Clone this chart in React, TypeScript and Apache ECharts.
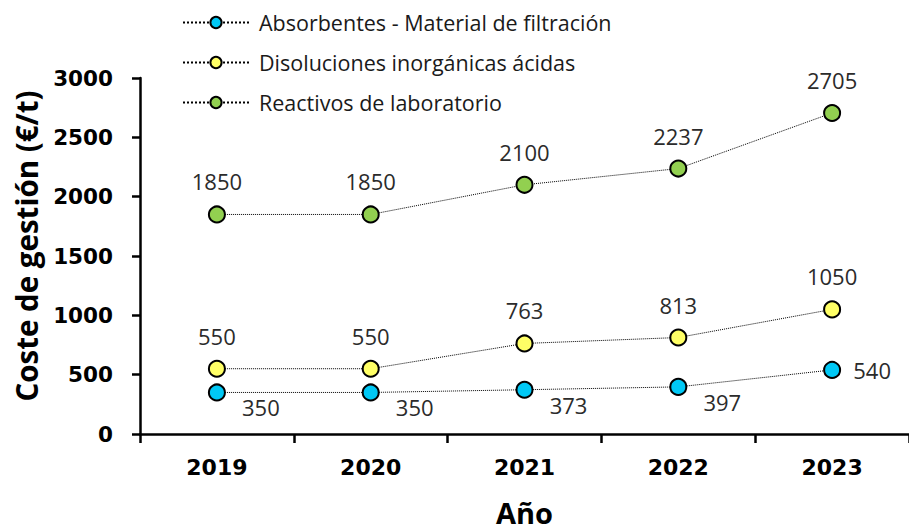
import React, { useEffect, useRef } from "react";
import * as echarts from "echarts";

const years = ["2019", "2020", "2021", "2022", "2023"];
const absorbentes = [350, 350, 373, 397, 540];
const disoluciones = [550, 550, 763, 813, 1050];
const reactivos = [1850, 1850, 2100, 2237, 2705];
const seriesNames = [
  "Absorbentes - Material de filtración",
  "Disoluciones inorgánicas ácidas",
  "Reactivos de laboratorio",
];
const colors = ["#00C8F5", "#FFFF66", "#92D050"];

const FONT = "'Open Sans', 'Noto Sans', sans-serif";
const TICKFONT = "'DejaVu Sans', 'Open Sans', sans-serif";

export default function App() {
  const ref = useRef<HTMLDivElement>(null);
  useEffect(() => {
    if (!ref.current) return;
    const chart = echarts.init(ref.current, undefined, { renderer: "svg" });
    const labelBase = {
      show: true,
      fontFamily: FONT,
      fontSize: 22,
      color: "#2b2b2b",
    };
    const mkSeries = (name: string, data: number[], color: string, above: boolean) => ({
      name,
      type: "line",
      data: data.map((v, i) => {
        if (above) {
          return { value: v, label: { ...labelBase, position: "inside", offset: [0, -33] } };
        }
        const last = i === data.length - 1;
        return {
          value: v,
          label: { ...labelBase, position: "inside", offset: last ? [40, 0] : [44, 15] },
        };
      }),
      symbol: "circle",
      symbolSize: 16,
      itemStyle: { color, borderColor: "#000", borderWidth: 2 },
      lineStyle: { color: "#000", width: 1, type: "dotted" },
      z: 3,
    });
    chart.setOption({
      animation: false,
      backgroundColor: "#fff",
      grid: { left: 140, right: -4, top: 78, bottom: 93, containLabel: false },
      legend: {
        orient: "vertical",
        left: 177,
        top: 6,
        itemWidth: 66,
        itemHeight: 14,
        itemGap: 17,
        textStyle: {
          fontFamily: FONT,
          fontSize: 21.5,
          color: "#1a1a1a",
          lineHeight: 23,
          padding: [0, 0, 0, 5],
        },
        data: seriesNames,
      },
      xAxis: {
        type: "category",
        data: years,
        boundaryGap: true,
        name: "Año",
        nameLocation: "middle",
        nameGap: 64,
        nameTextStyle: { fontFamily: FONT, fontSize: 29, fontWeight: "bold", color: "#000" },
        axisLine: { lineStyle: { color: "#000", width: 2.5 } },
        axisTick: { show: true, length: 9, lineStyle: { color: "#000", width: 2.5 } },
        axisLabel: { fontFamily: TICKFONT, fontSize: 22, fontWeight: "bold", color: "#000", margin: 22 },
      },
      yAxis: {
        type: "value",
        min: 0,
        max: 3000,
        interval: 500,
        name: "Coste de gestión (€/t)",
        nameLocation: "middle",
        nameGap: 99,
        nameTextStyle: {
          fontFamily: FONT,
          fontSize: 29.5,
          fontWeight: "bold",
          color: "#000",
          lineHeight: 30,
          padding: [0, 0, 0, 20],
        },
        axisLine: { show: true, lineStyle: { color: "#000", width: 2.5 } },
        axisTick: { show: true, length: 8, lineStyle: { color: "#000", width: 2.5 } },
        axisLabel: {
          fontFamily: TICKFONT,
          fontSize: 21.5,
          fontWeight: "bold",
          color: "#000",
          margin: 27,
          formatter: (v: number) => String(v),
        },
        splitLine: { show: false },
      },
      series: [
        mkSeries(seriesNames[0], absorbentes, colors[0], false),
        mkSeries(seriesNames[1], disoluciones, colors[1], true),
        mkSeries(seriesNames[2], reactivos, colors[2], true),
      ],
    });
    return () => chart.dispose();
  }, []);
  return <div ref={ref} style={{ width: 909, height: 532, position: "fixed", left: 0, top: 0 }} />;
}
